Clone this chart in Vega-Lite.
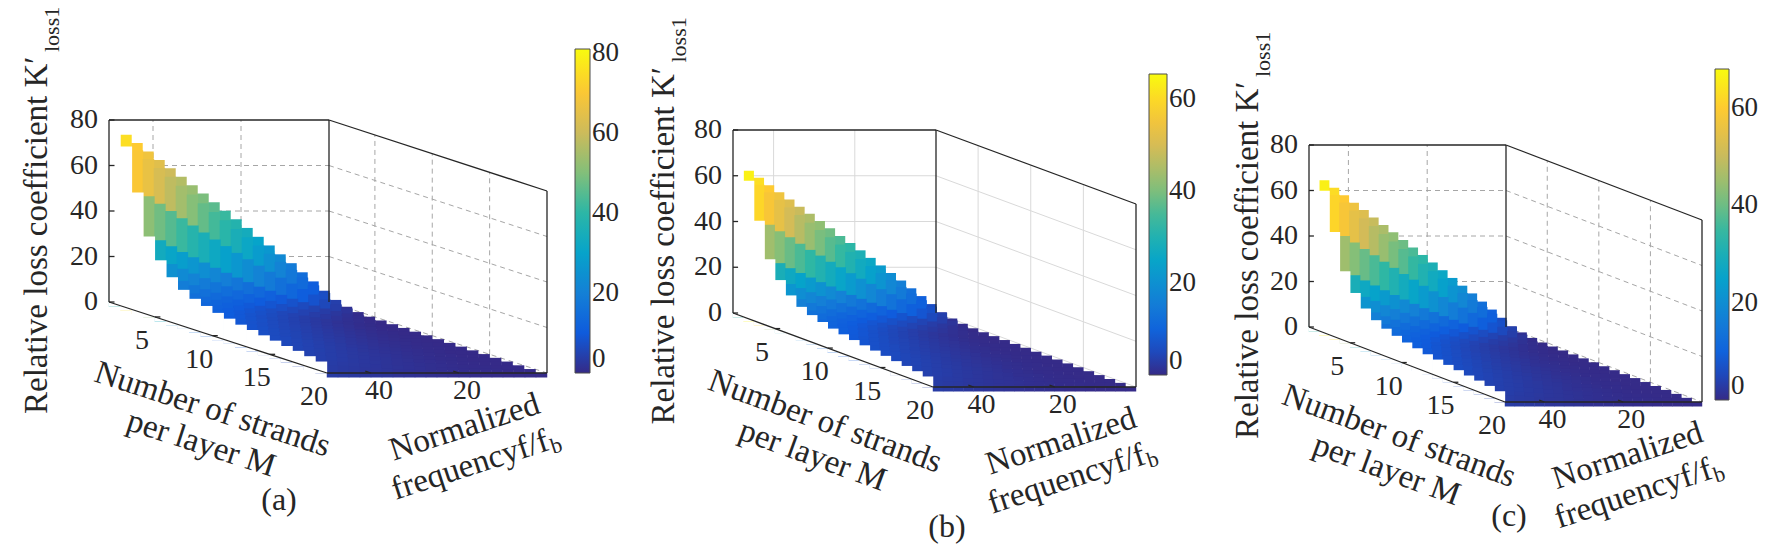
{
"$schema":"https://vega.github.io/schema/vega-lite/v6.json",
"width":1778,"height":545,"padding":0,"autosize":{"type":"none"},"background":"white",
"config":{"view":{"stroke":null},"text":{"font":"Liberation Serif","color":"#262626"},
"legend":{"orient":"none","direction":"vertical","title":null,"labelFont":"Liberation Serif","labelFontSize":27,"labelColor":"#262626","labelBaseline":"middle","labelOffset":8,"gradientStrokeColor":"#4d4d4d","gradientStrokeWidth":1}},
"datasets":{
"surf":[
{"M":1,"f":48.75,"a":38,"b":32.3,"c":33.4},{"M":1,"f":46.25,"a":37.5,"b":31.9,"c":33},{"M":1,"f":43.75,"a":36.5,"b":31,"c":32.1},{"M":1,"f":41.25,"a":35.5,"b":30.2,"c":31.2},{"M":1,"f":38.75,"a":34.5,"b":29.3,"c":30.4},{"M":1,"f":36.25,"a":33.5,"b":28.5,"c":29.5},{"M":1,"f":33.75,"a":32.5,"b":27.6,"c":28.6},{"M":1,"f":31.25,"a":31.5,"b":26.8,"c":27.7},{"M":1,"f":28.75,"a":30.5,"b":25.9,"c":26.8},{"M":1,"f":26.25,"a":29.5,"b":25.1,"c":26},{"M":1,"f":23.75,"a":28.5,"b":24.2,"c":25.1},{"M":1,"f":21.25,"a":27,"b":23,"c":23.8},{"M":1,"f":18.75,"a":26,"b":22.1,"c":22.9},{"M":1,"f":16.25,"a":24.5,"b":20.8,"c":21.6},{"M":1,"f":13.75,"a":22.5,"b":19.1,"c":19.8},{"M":1,"f":11.25,"a":20,"b":17,"c":17.6},{"M":1,"f":8.75,"a":16,"b":13.6,"c":14.1},{"M":1,"f":6.25,"a":11,"b":9.4,"c":9.7},{"M":1,"f":3.75,"a":6,"b":5.1,"c":5.3},{"M":1,"f":1.25,"a":2,"b":1.7,"c":1.8},
{"M":2,"f":48.75,"a":75.2,"b":63.9,"c":66.2},{"M":2,"f":46.25,"a":71.5,"b":60.8,"c":62.9},{"M":2,"f":43.75,"a":67.8,"b":57.6,"c":59.7},{"M":2,"f":41.25,"a":64.1,"b":54.5,"c":56.4},{"M":2,"f":38.75,"a":60.4,"b":51.3,"c":53.2},{"M":2,"f":36.25,"a":56.7,"b":48.2,"c":49.9},{"M":2,"f":33.75,"a":53,"b":45.1,"c":46.6},{"M":2,"f":31.25,"a":49.3,"b":41.9,"c":43.4},{"M":2,"f":28.75,"a":45.5,"b":38.7,"c":40},{"M":2,"f":26.25,"a":41.7,"b":35.4,"c":36.7},{"M":2,"f":23.75,"a":38,"b":32.3,"c":33.4},{"M":2,"f":21.25,"a":34.2,"b":29.1,"c":30.1},{"M":2,"f":18.75,"a":30.3,"b":25.8,"c":26.7},{"M":2,"f":16.25,"a":26.5,"b":22.5,"c":23.3},{"M":2,"f":13.75,"a":22.6,"b":19.2,"c":19.9},{"M":2,"f":11.25,"a":18.7,"b":15.9,"c":16.5},{"M":2,"f":8.75,"a":14.7,"b":12.5,"c":12.9},{"M":2,"f":6.25,"a":10.7,"b":9.1,"c":9.4},{"M":2,"f":3.75,"a":6.6,"b":5.6,"c":5.8},{"M":2,"f":1.25,"a":2.3,"b":2,"c":2},
{"M":3,"f":48.75,"a":70,"b":59.5,"c":61.6},{"M":3,"f":46.25,"a":66.1,"b":56.2,"c":58.2},{"M":3,"f":43.75,"a":62.2,"b":52.9,"c":54.7},{"M":3,"f":41.25,"a":58.3,"b":49.6,"c":51.3},{"M":3,"f":38.75,"a":54.4,"b":46.2,"c":47.9},{"M":3,"f":36.25,"a":50.5,"b":42.9,"c":44.4},{"M":3,"f":33.75,"a":46.7,"b":39.7,"c":41.1},{"M":3,"f":31.25,"a":42.9,"b":36.5,"c":37.8},{"M":3,"f":28.75,"a":39.2,"b":33.3,"c":34.5},{"M":3,"f":26.25,"a":35.4,"b":30.1,"c":31.2},{"M":3,"f":23.75,"a":31.8,"b":27,"c":28},{"M":3,"f":21.25,"a":28.1,"b":23.9,"c":24.7},{"M":3,"f":18.75,"a":24.5,"b":20.8,"c":21.6},{"M":3,"f":16.25,"a":20.9,"b":17.8,"c":18.4},{"M":3,"f":13.75,"a":17.4,"b":14.8,"c":15.3},{"M":3,"f":11.25,"a":14,"b":11.9,"c":12.3},{"M":3,"f":8.75,"a":10.6,"b":9,"c":9.3},{"M":3,"f":6.25,"a":7.3,"b":6.2,"c":6.4},{"M":3,"f":3.75,"a":4.2,"b":3.6,"c":3.7},{"M":3,"f":1.25,"a":1.2,"b":1,"c":1.1},
{"M":4,"f":48.75,"a":51.4,"b":43.7,"c":45.2},{"M":4,"f":46.25,"a":48.1,"b":40.9,"c":42.3},{"M":4,"f":43.75,"a":44.9,"b":38.2,"c":39.5},{"M":4,"f":41.25,"a":41.7,"b":35.4,"c":36.7},{"M":4,"f":38.75,"a":38.5,"b":32.7,"c":33.9},{"M":4,"f":36.25,"a":35.5,"b":30.2,"c":31.2},{"M":4,"f":33.75,"a":32.4,"b":27.5,"c":28.5},{"M":4,"f":31.25,"a":29.5,"b":25.1,"c":26},{"M":4,"f":28.75,"a":26.5,"b":22.5,"c":23.3},{"M":4,"f":26.25,"a":23.7,"b":20.1,"c":20.9},{"M":4,"f":23.75,"a":20.9,"b":17.8,"c":18.4},{"M":4,"f":21.25,"a":18.2,"b":15.5,"c":16},{"M":4,"f":18.75,"a":15.6,"b":13.3,"c":13.7},{"M":4,"f":16.25,"a":13,"b":11.1,"c":11.4},{"M":4,"f":13.75,"a":10.6,"b":9,"c":9.3},{"M":4,"f":11.25,"a":8.2,"b":7,"c":7.2},{"M":4,"f":8.75,"a":6,"b":5.1,"c":5.3},{"M":4,"f":6.25,"a":3.9,"b":3.3,"c":3.4},{"M":4,"f":3.75,"a":2.1,"b":1.8,"c":1.8},{"M":4,"f":1.25,"a":0.5,"b":0.4,"c":0.4},
{"M":5,"f":48.75,"a":33.7,"b":28.6,"c":29.7},{"M":5,"f":46.25,"a":31.1,"b":26.4,"c":27.4},{"M":5,"f":43.75,"a":28.6,"b":24.3,"c":25.2},{"M":5,"f":41.25,"a":26.2,"b":22.3,"c":23.1},{"M":5,"f":38.75,"a":23.9,"b":20.3,"c":21},{"M":5,"f":36.25,"a":21.6,"b":18.4,"c":19},{"M":5,"f":33.75,"a":19.4,"b":16.5,"c":17.1},{"M":5,"f":31.25,"a":17.3,"b":14.7,"c":15.2},{"M":5,"f":28.75,"a":15.3,"b":13,"c":13.5},{"M":5,"f":26.25,"a":13.3,"b":11.3,"c":11.7},{"M":5,"f":23.75,"a":11.5,"b":9.8,"c":10.1},{"M":5,"f":21.25,"a":9.7,"b":8.2,"c":8.5},{"M":5,"f":18.75,"a":8,"b":6.8,"c":7},{"M":5,"f":16.25,"a":6.5,"b":5.5,"c":5.7},{"M":5,"f":13.75,"a":5,"b":4.3,"c":4.4},{"M":5,"f":11.25,"a":3.7,"b":3.1,"c":3.3},{"M":5,"f":8.75,"a":2.6,"b":2.2,"c":2.3},{"M":5,"f":6.25,"a":1.5,"b":1.3,"c":1.3},{"M":5,"f":3.75,"a":0.7,"b":0.6,"c":0.6},{"M":5,"f":1.25,"a":0.1,"b":0.1,"c":0.1},
{"M":6,"f":48.75,"a":24.9,"b":21.2,"c":21.9},{"M":6,"f":46.25,"a":22.8,"b":19.4,"c":20.1},{"M":6,"f":43.75,"a":20.7,"b":17.6,"c":18.2},{"M":6,"f":41.25,"a":18.7,"b":15.9,"c":16.5},{"M":6,"f":38.75,"a":16.9,"b":14.4,"c":14.9},{"M":6,"f":36.25,"a":15.1,"b":12.8,"c":13.3},{"M":6,"f":33.75,"a":13.3,"b":11.3,"c":11.7},{"M":6,"f":31.25,"a":11.7,"b":9.9,"c":10.3},{"M":6,"f":28.75,"a":10.1,"b":8.6,"c":8.9},{"M":6,"f":26.25,"a":8.7,"b":7.4,"c":7.7},{"M":6,"f":23.75,"a":7.3,"b":6.2,"c":6.4},{"M":6,"f":21.25,"a":6.1,"b":5.2,"c":5.4},{"M":6,"f":18.75,"a":4.9,"b":4.2,"c":4.3},{"M":6,"f":16.25,"a":3.8,"b":3.2,"c":3.3},{"M":6,"f":13.75,"a":2.9,"b":2.5,"c":2.6},{"M":6,"f":11.25,"a":2.1,"b":1.8,"c":1.8},{"M":6,"f":8.75,"a":1.3,"b":1.1,"c":1.1},{"M":6,"f":6.25,"a":0.8,"b":0.7,"c":0.7},{"M":6,"f":3.75,"a":0.3,"b":0.3,"c":0.3},{"M":6,"f":1.25,"a":0.1,"b":0.1,"c":0.1},
{"M":7,"f":48.75,"a":19.1,"b":16.2,"c":16.8},{"M":7,"f":46.25,"a":17.2,"b":14.6,"c":15.1},{"M":7,"f":43.75,"a":15.5,"b":13.2,"c":13.6},{"M":7,"f":41.25,"a":13.9,"b":11.8,"c":12.2},{"M":7,"f":38.75,"a":12.3,"b":10.5,"c":10.8},{"M":7,"f":36.25,"a":10.9,"b":9.3,"c":9.6},{"M":7,"f":33.75,"a":9.5,"b":8.1,"c":8.4},{"M":7,"f":31.25,"a":8.2,"b":7,"c":7.2},{"M":7,"f":28.75,"a":7,"b":6,"c":6.2},{"M":7,"f":26.25,"a":5.9,"b":5,"c":5.2},{"M":7,"f":23.75,"a":4.9,"b":4.2,"c":4.3},{"M":7,"f":21.25,"a":3.9,"b":3.3,"c":3.4},{"M":7,"f":18.75,"a":3.1,"b":2.6,"c":2.7},{"M":7,"f":16.25,"a":2.4,"b":2,"c":2.1},{"M":7,"f":13.75,"a":1.7,"b":1.4,"c":1.5},{"M":7,"f":11.25,"a":1.2,"b":1,"c":1.1},{"M":7,"f":8.75,"a":0.7,"b":0.6,"c":0.6},{"M":7,"f":6.25,"a":0.4,"b":0.3,"c":0.4},{"M":7,"f":3.75,"a":0.1,"b":0.1,"c":0.1},{"M":7,"f":1.25,"a":0.1,"b":0.1,"c":0.1},
{"M":8,"f":48.75,"a":15.2,"b":12.9,"c":13.4},{"M":8,"f":46.25,"a":13.8,"b":11.7,"c":12.1},{"M":8,"f":43.75,"a":12.4,"b":10.5,"c":10.9},{"M":8,"f":41.25,"a":11.1,"b":9.4,"c":9.8},{"M":8,"f":38.75,"a":9.9,"b":8.4,"c":8.7},{"M":8,"f":36.25,"a":8.7,"b":7.4,"c":7.7},{"M":8,"f":33.75,"a":7.6,"b":6.5,"c":6.7},{"M":8,"f":31.25,"a":6.6,"b":5.6,"c":5.8},{"M":8,"f":28.75,"a":5.6,"b":4.8,"c":4.9},{"M":8,"f":26.25,"a":4.7,"b":4,"c":4.1},{"M":8,"f":23.75,"a":3.9,"b":3.3,"c":3.4},{"M":8,"f":21.25,"a":3.1,"b":2.6,"c":2.7},{"M":8,"f":18.75,"a":2.5,"b":2.1,"c":2.2},{"M":8,"f":16.25,"a":1.9,"b":1.6,"c":1.7},{"M":8,"f":13.75,"a":1.4,"b":1.2,"c":1.2},{"M":8,"f":11.25,"a":0.9,"b":0.8,"c":0.8},{"M":8,"f":8.75,"a":0.6,"b":0.5,"c":0.5},{"M":8,"f":6.25,"a":0.3,"b":0.3,"c":0.3},{"M":8,"f":3.75,"a":0.1,"b":0.1,"c":0.1},{"M":8,"f":1.25,"a":0.1,"b":0.1,"c":0.1},
{"M":9,"f":48.75,"a":12.9,"b":11,"c":11.4},{"M":9,"f":46.25,"a":11.6,"b":9.9,"c":10.2},{"M":9,"f":43.75,"a":10.5,"b":8.9,"c":9.2},{"M":9,"f":41.25,"a":9.4,"b":8,"c":8.3},{"M":9,"f":38.75,"a":8.3,"b":7.1,"c":7.3},{"M":9,"f":36.25,"a":7.3,"b":6.2,"c":6.4},{"M":9,"f":33.75,"a":6.4,"b":5.4,"c":5.6},{"M":9,"f":31.25,"a":5.5,"b":4.7,"c":4.8},{"M":9,"f":28.75,"a":4.7,"b":4,"c":4.1},{"M":9,"f":26.25,"a":4,"b":3.4,"c":3.5},{"M":9,"f":23.75,"a":3.3,"b":2.8,"c":2.9},{"M":9,"f":21.25,"a":2.7,"b":2.3,"c":2.4},{"M":9,"f":18.75,"a":2.1,"b":1.8,"c":1.8},{"M":9,"f":16.25,"a":1.6,"b":1.4,"c":1.4},{"M":9,"f":13.75,"a":1.2,"b":1,"c":1.1},{"M":9,"f":11.25,"a":0.8,"b":0.7,"c":0.7},{"M":9,"f":8.75,"a":0.5,"b":0.4,"c":0.4},{"M":9,"f":6.25,"a":0.3,"b":0.3,"c":0.3},{"M":9,"f":3.75,"a":0.1,"b":0.1,"c":0.1},{"M":9,"f":1.25,"a":0.1,"b":0.1,"c":0.1},
{"M":10,"f":48.75,"a":11.4,"b":9.7,"c":10},{"M":10,"f":46.25,"a":10.3,"b":8.8,"c":9.1},{"M":10,"f":43.75,"a":9.3,"b":7.9,"c":8.2},{"M":10,"f":41.25,"a":8.3,"b":7.1,"c":7.3},{"M":10,"f":38.75,"a":7.4,"b":6.3,"c":6.5},{"M":10,"f":36.25,"a":6.5,"b":5.5,"c":5.7},{"M":10,"f":33.75,"a":5.7,"b":4.8,"c":5},{"M":10,"f":31.25,"a":4.9,"b":4.2,"c":4.3},{"M":10,"f":28.75,"a":4.2,"b":3.6,"c":3.7},{"M":10,"f":26.25,"a":3.5,"b":3,"c":3.1},{"M":10,"f":23.75,"a":2.9,"b":2.5,"c":2.6},{"M":10,"f":21.25,"a":2.4,"b":2,"c":2.1},{"M":10,"f":18.75,"a":1.9,"b":1.6,"c":1.7},{"M":10,"f":16.25,"a":1.4,"b":1.2,"c":1.2},{"M":10,"f":13.75,"a":1,"b":0.9,"c":0.9},{"M":10,"f":11.25,"a":0.7,"b":0.6,"c":0.6},{"M":10,"f":8.75,"a":0.4,"b":0.3,"c":0.4},{"M":10,"f":6.25,"a":0.2,"b":0.2,"c":0.2},{"M":10,"f":3.75,"a":0.1,"b":0.1,"c":0.1},{"M":10,"f":1.25,"a":0.1,"b":0.1,"c":0.1},
{"M":11,"f":48.75,"a":10,"b":8.5,"c":8.8},{"M":11,"f":46.25,"a":9.1,"b":7.7,"c":8},{"M":11,"f":43.75,"a":8.1,"b":6.9,"c":7.1},{"M":11,"f":41.25,"a":7.3,"b":6.2,"c":6.4},{"M":11,"f":38.75,"a":6.5,"b":5.5,"c":5.7},{"M":11,"f":36.25,"a":5.7,"b":4.8,"c":5},{"M":11,"f":33.75,"a":5,"b":4.3,"c":4.4},{"M":11,"f":31.25,"a":4.3,"b":3.7,"c":3.8},{"M":11,"f":28.75,"a":3.7,"b":3.1,"c":3.3},{"M":11,"f":26.25,"a":3.1,"b":2.6,"c":2.7},{"M":11,"f":23.75,"a":2.6,"b":2.2,"c":2.3},{"M":11,"f":21.25,"a":2.1,"b":1.8,"c":1.8},{"M":11,"f":18.75,"a":1.6,"b":1.4,"c":1.4},{"M":11,"f":16.25,"a":1.2,"b":1,"c":1.1},{"M":11,"f":13.75,"a":0.9,"b":0.8,"c":0.8},{"M":11,"f":11.25,"a":0.6,"b":0.5,"c":0.5},{"M":11,"f":8.75,"a":0.4,"b":0.3,"c":0.4},{"M":11,"f":6.25,"a":0.2,"b":0.2,"c":0.2},{"M":11,"f":3.75,"a":0.1,"b":0.1,"c":0.1},{"M":11,"f":1.25,"a":0.1,"b":0.1,"c":0.1},
{"M":12,"f":48.75,"a":9.1,"b":7.7,"c":8},{"M":12,"f":46.25,"a":8.2,"b":7,"c":7.2},{"M":12,"f":43.75,"a":7.4,"b":6.3,"c":6.5},{"M":12,"f":41.25,"a":6.6,"b":5.6,"c":5.8},{"M":12,"f":38.75,"a":5.9,"b":5,"c":5.2},{"M":12,"f":36.25,"a":5.2,"b":4.4,"c":4.6},{"M":12,"f":33.75,"a":4.5,"b":3.8,"c":4},{"M":12,"f":31.25,"a":3.9,"b":3.3,"c":3.4},{"M":12,"f":28.75,"a":3.3,"b":2.8,"c":2.9},{"M":12,"f":26.25,"a":2.8,"b":2.4,"c":2.5},{"M":12,"f":23.75,"a":2.3,"b":2,"c":2},{"M":12,"f":21.25,"a":1.9,"b":1.6,"c":1.7},{"M":12,"f":18.75,"a":1.5,"b":1.3,"c":1.3},{"M":12,"f":16.25,"a":1.1,"b":0.9,"c":1},{"M":12,"f":13.75,"a":0.8,"b":0.7,"c":0.7},{"M":12,"f":11.25,"a":0.6,"b":0.5,"c":0.5},{"M":12,"f":8.75,"a":0.3,"b":0.3,"c":0.3},{"M":12,"f":6.25,"a":0.2,"b":0.2,"c":0.2},{"M":12,"f":3.75,"a":0.1,"b":0.1,"c":0.1},{"M":12,"f":1.25,"a":0.1,"b":0.1,"c":0.1},
{"M":13,"f":48.75,"a":8.1,"b":6.9,"c":7.1},{"M":13,"f":46.25,"a":7.3,"b":6.2,"c":6.4},{"M":13,"f":43.75,"a":6.6,"b":5.6,"c":5.8},{"M":13,"f":41.25,"a":5.9,"b":5,"c":5.2},{"M":13,"f":38.75,"a":5.2,"b":4.4,"c":4.6},{"M":13,"f":36.25,"a":4.6,"b":3.9,"c":4},{"M":13,"f":33.75,"a":4,"b":3.4,"c":3.5},{"M":13,"f":31.25,"a":3.5,"b":3,"c":3.1},{"M":13,"f":28.75,"a":3,"b":2.6,"c":2.6},{"M":13,"f":26.25,"a":2.5,"b":2.1,"c":2.2},{"M":13,"f":23.75,"a":2.1,"b":1.8,"c":1.8},{"M":13,"f":21.25,"a":1.7,"b":1.4,"c":1.5},{"M":13,"f":18.75,"a":1.3,"b":1.1,"c":1.1},{"M":13,"f":16.25,"a":1,"b":0.9,"c":0.9},{"M":13,"f":13.75,"a":0.7,"b":0.6,"c":0.6},{"M":13,"f":11.25,"a":0.5,"b":0.4,"c":0.4},{"M":13,"f":8.75,"a":0.3,"b":0.3,"c":0.3},{"M":13,"f":6.25,"a":0.2,"b":0.2,"c":0.2},{"M":13,"f":3.75,"a":0.1,"b":0.1,"c":0.1},{"M":13,"f":1.25,"a":0.1,"b":0.1,"c":0.1},
{"M":14,"f":48.75,"a":7.4,"b":6.3,"c":6.5},{"M":14,"f":46.25,"a":6.7,"b":5.7,"c":5.9},{"M":14,"f":43.75,"a":6.1,"b":5.2,"c":5.4},{"M":14,"f":41.25,"a":5.4,"b":4.6,"c":4.8},{"M":14,"f":38.75,"a":4.8,"b":4.1,"c":4.2},{"M":14,"f":36.25,"a":4.2,"b":3.6,"c":3.7},{"M":14,"f":33.75,"a":3.7,"b":3.1,"c":3.3},{"M":14,"f":31.25,"a":3.2,"b":2.7,"c":2.8},{"M":14,"f":28.75,"a":2.7,"b":2.3,"c":2.4},{"M":14,"f":26.25,"a":2.3,"b":2,"c":2},{"M":14,"f":23.75,"a":1.9,"b":1.6,"c":1.7},{"M":14,"f":21.25,"a":1.5,"b":1.3,"c":1.3},{"M":14,"f":18.75,"a":1.2,"b":1,"c":1.1},{"M":14,"f":16.25,"a":0.9,"b":0.8,"c":0.8},{"M":14,"f":13.75,"a":0.7,"b":0.6,"c":0.6},{"M":14,"f":11.25,"a":0.5,"b":0.4,"c":0.4},{"M":14,"f":8.75,"a":0.3,"b":0.3,"c":0.3},{"M":14,"f":6.25,"a":0.1,"b":0.1,"c":0.1},{"M":14,"f":3.75,"a":0.1,"b":0.1,"c":0.1},{"M":14,"f":1.25,"a":0.1,"b":0.1,"c":0.1},
{"M":15,"f":48.75,"a":6.7,"b":5.7,"c":5.9},{"M":15,"f":46.25,"a":6,"b":5.1,"c":5.3},{"M":15,"f":43.75,"a":5.4,"b":4.6,"c":4.8},{"M":15,"f":41.25,"a":4.9,"b":4.2,"c":4.3},{"M":15,"f":38.75,"a":4.3,"b":3.7,"c":3.8},{"M":15,"f":36.25,"a":3.8,"b":3.2,"c":3.3},{"M":15,"f":33.75,"a":3.3,"b":2.8,"c":2.9},{"M":15,"f":31.25,"a":2.9,"b":2.5,"c":2.6},{"M":15,"f":28.75,"a":2.4,"b":2,"c":2.1},{"M":15,"f":26.25,"a":2.1,"b":1.8,"c":1.8},{"M":15,"f":23.75,"a":1.7,"b":1.4,"c":1.5},{"M":15,"f":21.25,"a":1.4,"b":1.2,"c":1.2},{"M":15,"f":18.75,"a":1.1,"b":0.9,"c":1},{"M":15,"f":16.25,"a":0.8,"b":0.7,"c":0.7},{"M":15,"f":13.75,"a":0.6,"b":0.5,"c":0.5},{"M":15,"f":11.25,"a":0.4,"b":0.3,"c":0.4},{"M":15,"f":8.75,"a":0.3,"b":0.3,"c":0.3},{"M":15,"f":6.25,"a":0.1,"b":0.1,"c":0.1},{"M":15,"f":3.75,"a":0.1,"b":0.1,"c":0.1},{"M":15,"f":1.25,"a":0.1,"b":0.1,"c":0.1},
{"M":16,"f":48.75,"a":6,"b":5.1,"c":5.3},{"M":16,"f":46.25,"a":5.4,"b":4.6,"c":4.8},{"M":16,"f":43.75,"a":4.9,"b":4.2,"c":4.3},{"M":16,"f":41.25,"a":4.4,"b":3.7,"c":3.9},{"M":16,"f":38.75,"a":3.9,"b":3.3,"c":3.4},{"M":16,"f":36.25,"a":3.4,"b":2.9,"c":3},{"M":16,"f":33.75,"a":3,"b":2.6,"c":2.6},{"M":16,"f":31.25,"a":2.6,"b":2.2,"c":2.3},{"M":16,"f":28.75,"a":2.2,"b":1.9,"c":1.9},{"M":16,"f":26.25,"a":1.9,"b":1.6,"c":1.7},{"M":16,"f":23.75,"a":1.5,"b":1.3,"c":1.3},{"M":16,"f":21.25,"a":1.2,"b":1,"c":1.1},{"M":16,"f":18.75,"a":1,"b":0.9,"c":0.9},{"M":16,"f":16.25,"a":0.7,"b":0.6,"c":0.6},{"M":16,"f":13.75,"a":0.5,"b":0.4,"c":0.4},{"M":16,"f":11.25,"a":0.4,"b":0.3,"c":0.4},{"M":16,"f":8.75,"a":0.2,"b":0.2,"c":0.2},{"M":16,"f":6.25,"a":0.1,"b":0.1,"c":0.1},{"M":16,"f":3.75,"a":0.1,"b":0.1,"c":0.1},{"M":16,"f":1.25,"a":0.1,"b":0.1,"c":0.1},
{"M":17,"f":48.75,"a":5.3,"b":4.5,"c":4.7},{"M":17,"f":46.25,"a":4.8,"b":4.1,"c":4.2},{"M":17,"f":43.75,"a":4.3,"b":3.7,"c":3.8},{"M":17,"f":41.25,"a":3.9,"b":3.3,"c":3.4},{"M":17,"f":38.75,"a":3.5,"b":3,"c":3.1},{"M":17,"f":36.25,"a":3,"b":2.6,"c":2.6},{"M":17,"f":33.75,"a":2.7,"b":2.3,"c":2.4},{"M":17,"f":31.25,"a":2.3,"b":2,"c":2},{"M":17,"f":28.75,"a":2,"b":1.7,"c":1.8},{"M":17,"f":26.25,"a":1.6,"b":1.4,"c":1.4},{"M":17,"f":23.75,"a":1.4,"b":1.2,"c":1.2},{"M":17,"f":21.25,"a":1.1,"b":0.9,"c":1},{"M":17,"f":18.75,"a":0.9,"b":0.8,"c":0.8},{"M":17,"f":16.25,"a":0.7,"b":0.6,"c":0.6},{"M":17,"f":13.75,"a":0.5,"b":0.4,"c":0.4},{"M":17,"f":11.25,"a":0.3,"b":0.3,"c":0.3},{"M":17,"f":8.75,"a":0.2,"b":0.2,"c":0.2},{"M":17,"f":6.25,"a":0.1,"b":0.1,"c":0.1},{"M":17,"f":3.75,"a":0.1,"b":0.1,"c":0.1},{"M":17,"f":1.25,"a":0.1,"b":0.1,"c":0.1},
{"M":18,"f":48.75,"a":4.8,"b":4.1,"c":4.2},{"M":18,"f":46.25,"a":4.3,"b":3.7,"c":3.8},{"M":18,"f":43.75,"a":3.9,"b":3.3,"c":3.4},{"M":18,"f":41.25,"a":3.5,"b":3,"c":3.1},{"M":18,"f":38.75,"a":3.1,"b":2.6,"c":2.7},{"M":18,"f":36.25,"a":2.7,"b":2.3,"c":2.4},{"M":18,"f":33.75,"a":2.4,"b":2,"c":2.1},{"M":18,"f":31.25,"a":2,"b":1.7,"c":1.8},{"M":18,"f":28.75,"a":1.7,"b":1.4,"c":1.5},{"M":18,"f":26.25,"a":1.5,"b":1.3,"c":1.3},{"M":18,"f":23.75,"a":1.2,"b":1,"c":1.1},{"M":18,"f":21.25,"a":1,"b":0.9,"c":0.9},{"M":18,"f":18.75,"a":0.8,"b":0.7,"c":0.7},{"M":18,"f":16.25,"a":0.6,"b":0.5,"c":0.5},{"M":18,"f":13.75,"a":0.4,"b":0.3,"c":0.4},{"M":18,"f":11.25,"a":0.3,"b":0.3,"c":0.3},{"M":18,"f":8.75,"a":0.2,"b":0.2,"c":0.2},{"M":18,"f":6.25,"a":0.1,"b":0.1,"c":0.1},{"M":18,"f":3.75,"a":0.1,"b":0.1,"c":0.1},{"M":18,"f":1.25,"a":0.1,"b":0.1,"c":0.1},
{"M":19,"f":48.75,"a":4.1,"b":3.5,"c":3.6},{"M":19,"f":46.25,"a":3.7,"b":3.1,"c":3.3},{"M":19,"f":43.75,"a":3.3,"b":2.8,"c":2.9},{"M":19,"f":41.25,"a":3,"b":2.6,"c":2.6},{"M":19,"f":38.75,"a":2.6,"b":2.2,"c":2.3},{"M":19,"f":36.25,"a":2.3,"b":2,"c":2},{"M":19,"f":33.75,"a":2,"b":1.7,"c":1.8},{"M":19,"f":31.25,"a":1.8,"b":1.5,"c":1.6},{"M":19,"f":28.75,"a":1.5,"b":1.3,"c":1.3},{"M":19,"f":26.25,"a":1.3,"b":1.1,"c":1.1},{"M":19,"f":23.75,"a":1,"b":0.9,"c":0.9},{"M":19,"f":21.25,"a":0.8,"b":0.7,"c":0.7},{"M":19,"f":18.75,"a":0.7,"b":0.6,"c":0.6},{"M":19,"f":16.25,"a":0.5,"b":0.4,"c":0.4},{"M":19,"f":13.75,"a":0.4,"b":0.3,"c":0.4},{"M":19,"f":11.25,"a":0.3,"b":0.3,"c":0.3},{"M":19,"f":8.75,"a":0.2,"b":0.2,"c":0.2},{"M":19,"f":6.25,"a":0.1,"b":0.1,"c":0.1},{"M":19,"f":3.75,"a":0.1,"b":0.1,"c":0.1},{"M":19,"f":1.25,"a":0.1,"b":0.1,"c":0.1},
{"M":20,"f":48.75,"a":3.4,"b":2.9,"c":3},{"M":20,"f":46.25,"a":3.1,"b":2.6,"c":2.7},{"M":20,"f":43.75,"a":2.8,"b":2.4,"c":2.5},{"M":20,"f":41.25,"a":2.5,"b":2.1,"c":2.2},{"M":20,"f":38.75,"a":2.2,"b":1.9,"c":1.9},{"M":20,"f":36.25,"a":2,"b":1.7,"c":1.8},{"M":20,"f":33.75,"a":1.7,"b":1.4,"c":1.5},{"M":20,"f":31.25,"a":1.5,"b":1.3,"c":1.3},{"M":20,"f":28.75,"a":1.3,"b":1.1,"c":1.1},{"M":20,"f":26.25,"a":1.1,"b":0.9,"c":1},{"M":20,"f":23.75,"a":0.9,"b":0.8,"c":0.8},{"M":20,"f":21.25,"a":0.7,"b":0.6,"c":0.6},{"M":20,"f":18.75,"a":0.6,"b":0.5,"c":0.5},{"M":20,"f":16.25,"a":0.4,"b":0.3,"c":0.4},{"M":20,"f":13.75,"a":0.3,"b":0.3,"c":0.3},{"M":20,"f":11.25,"a":0.2,"b":0.2,"c":0.2},{"M":20,"f":8.75,"a":0.1,"b":0.1,"c":0.1},{"M":20,"f":6.25,"a":0.1,"b":0.1,"c":0.1},{"M":20,"f":3.75,"a":0.1,"b":0.1,"c":0.1},{"M":20,"f":1.25,"a":0.1,"b":0.1,"c":0.1}
],
"grid":[
{"id":"g1","o":0,"f":50,"M":1,"K":20},{"id":"g1","o":1,"f":0,"M":1,"K":20},
{"id":"g2","o":0,"f":50,"M":1,"K":40},{"id":"g2","o":1,"f":0,"M":1,"K":40},
{"id":"g3","o":0,"f":50,"M":1,"K":60},{"id":"g3","o":1,"f":0,"M":1,"K":60},
{"id":"g4","o":0,"f":20,"M":1,"K":0},{"id":"g4","o":1,"f":20,"M":1,"K":80},
{"id":"g5","o":0,"f":40,"M":1,"K":0},{"id":"g5","o":1,"f":40,"M":1,"K":80},
{"id":"g6","o":0,"f":0,"M":1,"K":20},{"id":"g6","o":1,"f":0,"M":20,"K":20},
{"id":"g7","o":0,"f":0,"M":1,"K":40},{"id":"g7","o":1,"f":0,"M":20,"K":40},
{"id":"g8","o":0,"f":0,"M":1,"K":60},{"id":"g8","o":1,"f":0,"M":20,"K":60},
{"id":"g9","o":0,"f":0,"M":5,"K":0},{"id":"g9","o":1,"f":0,"M":5,"K":80},
{"id":"g10","o":0,"f":0,"M":10,"K":0},{"id":"g10","o":1,"f":0,"M":10,"K":80},
{"id":"g11","o":0,"f":0,"M":15,"K":0},{"id":"g11","o":1,"f":0,"M":15,"K":80},
{"id":"g12","o":0,"f":50,"M":5,"K":0},{"id":"g12","o":1,"f":0,"M":5,"K":0},
{"id":"g13","o":0,"f":50,"M":10,"K":0},{"id":"g13","o":1,"f":0,"M":10,"K":0},
{"id":"g14","o":0,"f":50,"M":15,"K":0},{"id":"g14","o":1,"f":0,"M":15,"K":0},
{"id":"g15","o":0,"f":20,"M":1,"K":0},{"id":"g15","o":1,"f":20,"M":20,"K":0},
{"id":"g16","o":0,"f":40,"M":1,"K":0},{"id":"g16","o":1,"f":40,"M":20,"K":0},
{"id":"g17","o":0,"f":50,"M":1,"K":0},{"id":"g17","o":1,"f":0,"M":1,"K":0},
{"id":"g18","o":0,"f":0,"M":1,"K":0},{"id":"g18","o":1,"f":0,"M":20,"K":0}
],
"box":[
{"id":"b1","o":0,"f":50,"M":1,"K":0},{"id":"b1","o":1,"f":50,"M":1,"K":80},
{"id":"b2","o":0,"f":50,"M":1,"K":80},{"id":"b2","o":1,"f":0,"M":1,"K":80},
{"id":"b3","o":0,"f":0,"M":1,"K":0},{"id":"b3","o":1,"f":0,"M":1,"K":80},
{"id":"b4","o":0,"f":0,"M":1,"K":80},{"id":"b4","o":1,"f":0,"M":20,"K":80},
{"id":"b5","o":0,"f":0,"M":20,"K":0},{"id":"b5","o":1,"f":0,"M":20,"K":80},
{"id":"b6","o":0,"f":50,"M":1,"K":0},{"id":"b6","o":1,"f":50,"M":20,"K":0},
{"id":"b7","o":0,"f":50,"M":20,"K":0},{"id":"b7","o":1,"f":0,"M":20,"K":0},
{"id":"t1","o":0,"f":50,"M":1,"K":0},{"id":"t1","o":1,"f":48.75,"M":1,"K":0},
{"id":"t2","o":0,"f":50,"M":1,"K":20},{"id":"t2","o":1,"f":48.75,"M":1,"K":20},
{"id":"t3","o":0,"f":50,"M":1,"K":40},{"id":"t3","o":1,"f":48.75,"M":1,"K":40},
{"id":"t4","o":0,"f":50,"M":1,"K":60},{"id":"t4","o":1,"f":48.75,"M":1,"K":60},
{"id":"t5","o":0,"f":50,"M":1,"K":80},{"id":"t5","o":1,"f":48.75,"M":1,"K":80},
{"id":"t6","o":0,"f":50,"M":5,"K":0},{"id":"t6","o":1,"f":48.75,"M":5,"K":0},
{"id":"t7","o":0,"f":50,"M":10,"K":0},{"id":"t7","o":1,"f":48.75,"M":10,"K":0},
{"id":"t8","o":0,"f":50,"M":15,"K":0},{"id":"t8","o":1,"f":48.75,"M":15,"K":0},
{"id":"t9","o":0,"f":20,"M":20,"K":0},{"id":"t9","o":1,"f":20,"M":19.5,"K":0},
{"id":"t10","o":0,"f":40,"M":20,"K":0},{"id":"t10","o":1,"f":40,"M":19.5,"K":0}
],
"klab":[{"f":50,"M":1,"K":0},{"f":50,"M":1,"K":20},{"f":50,"M":1,"K":40},{"f":50,"M":1,"K":60},{"f":50,"M":1,"K":80}],
"mlab":[{"f":50,"M":5,"K":0},{"f":50,"M":10,"K":0},{"f":50,"M":15,"K":0},{"f":50,"M":20,"K":0}],
"flab":[{"f":20,"M":20,"K":0},{"f":40,"M":20,"K":0}],
"kt":[{"f":50,"M":1,"K":40,"t":"Relative loss coefficient K′","s":"loss1"}],
"mt":[{"f":50,"M":10.5,"K":0,"t":["Number of strands","per layer M"]}],
"ft":[{"f":50,"M":20,"K":0,"t1":"Normalized","t2":"frequencyf/f","s":"b"}]
},
"layer":[
{
"encoding":{
"x":{"field":"f","type":"ordinal","axis":null,"scale":{"type":"point","padding":0,"range":[547,327],"domain":[0,1.25,2.5,3.75,5,6.25,7.5,8.75,10,11.25,12.5,13.75,15,16.25,17.5,18.75,20,21.25,22.5,23.75,25,26.25,27.5,28.75,30,31.25,32.5,33.75,35,36.25,37.5,38.75,40,41.25,42.5,43.75,45,46.25,47.5,48.75,50]}},
"xOffset":{"field":"M","type":"quantitative","scale":{"domain":[1,20],"range":[-218,0],"zero":false,"nice":false}},
"y":{"field":"M","type":"ordinal","axis":null,"scale":{"type":"point","padding":0,"range":[302,373],"domain":[1,1.5,2,2.5,3,3.5,4,4.5,5,5.5,6,6.5,7,7.5,8,8.5,9,9.5,10,10.5,11,11.5,12,12.5,13,13.5,14,14.5,15,15.5,16,16.5,17,17.5,18,18.5,19,19.5,20]}},
"yOffset":{"field":"K","type":"quantitative","scale":{"domain":[0,80],"range":[0,-182],"zero":false,"nice":false}}
},
"layer":[
{"data":{"name":"grid"},"mark":{"type":"line","color":"#a6a6a6","strokeWidth":1,"strokeDash":[5,4]},"encoding":{"detail":{"field":"id","type":"nominal"},"order":{"field":"o","type":"quantitative"}}},
{"data":{"name":"surf"},"mark":{"type":"rule","strokeWidth":11.5,"y2Offset":4.5},"encoding":{
"yOffset":{"field":"a","type":"quantitative","scale":{"domain":[0,80],"range":[0,-182],"zero":false,"nice":false}},
"y2":{"field":"M"},
"color":{"field":"a","type":"quantitative","scale":{"type":"linear","interpolate":"rgb","domain":[0,10.125,20.25,30.375,40.5,50.625,60.75,70.875,81],"range":["#352a87","#0f5cdd","#1481d6","#06a4ca","#2eb7a4","#87bf77","#d1bb59","#fec832","#f9fb0e"]},
"legend":{"legendX":575,"legendY":49,"gradientLength":324,"gradientThickness":15,"values":[0,20,40,60,80]}}}},
{"data":{"name":"surf"},"transform":[{"window":[{"op":"lead","field":"a","as":"n"}],"groupby":["f"],"sort":[{"field":"M","order":"ascending"}]},{"filter":"datum.f == 48.75 && datum.n != null"}],"mark":{"type":"rule","color":"white","strokeWidth":12.3,"y2Offset":4.5},"encoding":{
"yOffset":{"field":"n","type":"quantitative","scale":{"domain":[0,80],"range":[0,-182],"zero":false,"nice":false}},
"y2":{"field":"M"}}},
{"data":{"name":"box"},"mark":{"type":"line","color":"#262626","strokeWidth":1.3},"encoding":{"detail":{"field":"id","type":"nominal"},"order":{"field":"o","type":"quantitative"}}},
{"data":{"name":"klab"},"mark":{"type":"text","align":"right","baseline":"middle","dx":-11,"fontSize":28},"encoding":{"text":{"field":"K","type":"quantitative"}}},
{"data":{"name":"mlab"},"mark":{"type":"text","align":"center","baseline":"middle","dx":-13,"dy":24,"fontSize":28},"encoding":{"text":{"field":"M","type":"quantitative"}}},
{"data":{"name":"flab"},"mark":{"type":"text","align":"center","baseline":"middle","dx":8,"dy":18,"fontSize":28},"encoding":{"text":{"field":"f","type":"quantitative"}}},
{"data":{"name":"kt"},"mark":{"type":"text","angle":270,"align":"left","baseline":"alphabetic","dx":-203,"dy":-62,"fontSize":33},"encoding":{"text":{"field":"t","type":"nominal"}}},
{"data":{"name":"kt"},"mark":{"type":"text","angle":270,"align":"left","baseline":"alphabetic","dx":159,"dy":-50,"fontSize":22},"encoding":{"text":{"field":"s","type":"nominal"}}},
{"data":{"name":"mt"},"mark":{"type":"text","angle":18,"align":"center","baseline":"middle","dx":17,"dy":70,"fontSize":33,"lineHeight":36},"encoding":{"text":{"field":"t","type":"nominal"}}},
{"data":{"name":"ft"},"mark":{"type":"text","angle":342,"align":"center","baseline":"middle","dx":114,"dy":94,"fontSize":33},"encoding":{"text":{"field":"t1","type":"nominal"}}},
{"data":{"name":"ft"},"mark":{"type":"text","angle":342,"align":"left","baseline":"middle","dx":26,"dy":132,"fontSize":33},"encoding":{"text":{"field":"t2","type":"nominal"}}},
{"data":{"name":"ft"},"mark":{"type":"text","angle":342,"align":"left","baseline":"middle","dx":190,"dy":140,"fontSize":22},"encoding":{"text":{"field":"s","type":"nominal"}}},
{"data":{"values":[{"f":50,"M":20,"K":0,"t":"(a)"}]},"mark":{"type":"text","align":"center","baseline":"middle","dx":-48,"dy":127,"fontSize":32},"encoding":{"text":{"field":"t","type":"nominal"}}}
]
},
{
"encoding":{
"x":{"field":"f","type":"ordinal","axis":null,"scale":{"type":"point","padding":0,"range":[1136,933],"domain":[0,1.25,2.5,3.75,5,6.25,7.5,8.75,10,11.25,12.5,13.75,15,16.25,17.5,18.75,20,21.25,22.5,23.75,25,26.25,27.5,28.75,30,31.25,32.5,33.75,35,36.25,37.5,38.75,40,41.25,42.5,43.75,45,46.25,47.5,48.75,50]}},
"xOffset":{"field":"M","type":"quantitative","scale":{"domain":[1,20],"range":[-200,0],"zero":false,"nice":false}},
"y":{"field":"M","type":"ordinal","axis":null,"scale":{"type":"point","padding":0,"range":[313,387],"domain":[1,1.5,2,2.5,3,3.5,4,4.5,5,5.5,6,6.5,7,7.5,8,8.5,9,9.5,10,10.5,11,11.5,12,12.5,13,13.5,14,14.5,15,15.5,16,16.5,17,17.5,18,18.5,19,19.5,20]}},
"yOffset":{"field":"K","type":"quantitative","scale":{"domain":[0,80],"range":[0,-183],"zero":false,"nice":false}}
},
"layer":[
{"data":{"name":"grid"},"mark":{"type":"line","color":"#d9d9d9","strokeWidth":1},"encoding":{"detail":{"field":"id","type":"nominal"},"order":{"field":"o","type":"quantitative"}}},
{"data":{"name":"surf"},"mark":{"type":"rule","strokeWidth":10.6,"y2Offset":4.5},"encoding":{
"yOffset":{"field":"b","type":"quantitative","scale":{"domain":[0,80],"range":[0,-183],"zero":false,"nice":false}},
"y2":{"field":"M"},
"color":{"field":"b","type":"quantitative","scale":{"type":"linear","interpolate":"rgb","domain":[0,8.1875,16.375,24.5625,32.75,40.9375,49.125,57.3125,65.5],"range":["#352a87","#0f5cdd","#1481d6","#06a4ca","#2eb7a4","#87bf77","#d1bb59","#fec832","#f9fb0e"]},
"legend":{"legendX":1149,"legendY":74,"gradientLength":301,"gradientThickness":18,"values":[0,20,40,60]}}}},
{"data":{"name":"surf"},"transform":[{"window":[{"op":"lead","field":"b","as":"n"}],"groupby":["f"],"sort":[{"field":"M","order":"ascending"}]},{"filter":"datum.f == 48.75 && datum.n != null"}],"mark":{"type":"rule","color":"white","strokeWidth":11.4,"y2Offset":4.5},"encoding":{
"yOffset":{"field":"n","type":"quantitative","scale":{"domain":[0,80],"range":[0,-183],"zero":false,"nice":false}},
"y2":{"field":"M"}}},
{"data":{"name":"box"},"mark":{"type":"line","color":"#262626","strokeWidth":1.3},"encoding":{"detail":{"field":"id","type":"nominal"},"order":{"field":"o","type":"quantitative"}}},
{"data":{"name":"klab"},"mark":{"type":"text","align":"right","baseline":"middle","dx":-11,"fontSize":28},"encoding":{"text":{"field":"K","type":"quantitative"}}},
{"data":{"name":"mlab"},"mark":{"type":"text","align":"center","baseline":"middle","dx":-13,"dy":24,"fontSize":28},"encoding":{"text":{"field":"M","type":"quantitative"}}},
{"data":{"name":"flab"},"mark":{"type":"text","align":"center","baseline":"middle","dx":8,"dy":18,"fontSize":28},"encoding":{"text":{"field":"f","type":"quantitative"}}},
{"data":{"name":"kt"},"mark":{"type":"text","angle":270,"align":"left","baseline":"alphabetic","dx":-203,"dy":-59,"fontSize":33},"encoding":{"text":{"field":"t","type":"nominal"}}},
{"data":{"name":"kt"},"mark":{"type":"text","angle":270,"align":"left","baseline":"alphabetic","dx":159,"dy":-47,"fontSize":22},"encoding":{"text":{"field":"s","type":"nominal"}}},
{"data":{"name":"mt"},"mark":{"type":"text","angle":20,"align":"center","baseline":"middle","dx":17,"dy":70,"fontSize":33,"lineHeight":36},"encoding":{"text":{"field":"t","type":"nominal"}}},
{"data":{"name":"ft"},"mark":{"type":"text","angle":342,"align":"center","baseline":"middle","dx":105,"dy":91,"fontSize":33},"encoding":{"text":{"field":"t1","type":"nominal"}}},
{"data":{"name":"ft"},"mark":{"type":"text","angle":342,"align":"left","baseline":"middle","dx":17,"dy":129,"fontSize":33},"encoding":{"text":{"field":"t2","type":"nominal"}}},
{"data":{"name":"ft"},"mark":{"type":"text","angle":342,"align":"left","baseline":"middle","dx":181,"dy":137,"fontSize":22},"encoding":{"text":{"field":"s","type":"nominal"}}},
{"data":{"values":[{"f":50,"M":20,"K":0,"t":"(b)"}]},"mark":{"type":"text","align":"center","baseline":"middle","dx":14,"dy":140,"fontSize":32},"encoding":{"text":{"field":"t","type":"nominal"}}}
]
},
{
"encoding":{
"x":{"field":"f","type":"ordinal","axis":null,"scale":{"type":"point","padding":0,"range":[1702,1505],"domain":[0,1.25,2.5,3.75,5,6.25,7.5,8.75,10,11.25,12.5,13.75,15,16.25,17.5,18.75,20,21.25,22.5,23.75,25,26.25,27.5,28.75,30,31.25,32.5,33.75,35,36.25,37.5,38.75,40,41.25,42.5,43.75,45,46.25,47.5,48.75,50]}},
"xOffset":{"field":"M","type":"quantitative","scale":{"domain":[1,20],"range":[-196,0],"zero":false,"nice":false}},
"y":{"field":"M","type":"ordinal","axis":null,"scale":{"type":"point","padding":0,"range":[327,402],"domain":[1,1.5,2,2.5,3,3.5,4,4.5,5,5.5,6,6.5,7,7.5,8,8.5,9,9.5,10,10.5,11,11.5,12,12.5,13,13.5,14,14.5,15,15.5,16,16.5,17,17.5,18,18.5,19,19.5,20]}},
"yOffset":{"field":"K","type":"quantitative","scale":{"domain":[0,80],"range":[0,-182],"zero":false,"nice":false}}
},
"layer":[
{"data":{"name":"grid"},"mark":{"type":"line","color":"#a6a6a6","strokeWidth":1,"strokeDash":[5,4]},"encoding":{"detail":{"field":"id","type":"nominal"},"order":{"field":"o","type":"quantitative"}}},
{"data":{"name":"surf"},"mark":{"type":"rule","strokeWidth":10.3,"y2Offset":4.5},"encoding":{
"yOffset":{"field":"c","type":"quantitative","scale":{"domain":[0,80],"range":[0,-182],"zero":false,"nice":false}},
"y2":{"field":"M"},
"color":{"field":"c","type":"quantitative","scale":{"type":"linear","interpolate":"rgb","domain":[0,8.5,17,25.5,34,42.5,51,59.5,68],"range":["#352a87","#0f5cdd","#1481d6","#06a4ca","#2eb7a4","#87bf77","#d1bb59","#fec832","#f9fb0e"]},
"legend":{"legendX":1715,"legendY":69,"gradientLength":331,"gradientThickness":14,"values":[0,20,40,60]}}}},
{"data":{"name":"surf"},"transform":[{"window":[{"op":"lead","field":"c","as":"n"}],"groupby":["f"],"sort":[{"field":"M","order":"ascending"}]},{"filter":"datum.f == 48.75 && datum.n != null"}],"mark":{"type":"rule","color":"white","strokeWidth":11.1,"y2Offset":4.5},"encoding":{
"yOffset":{"field":"n","type":"quantitative","scale":{"domain":[0,80],"range":[0,-182],"zero":false,"nice":false}},
"y2":{"field":"M"}}},
{"data":{"name":"box"},"mark":{"type":"line","color":"#262626","strokeWidth":1.3},"encoding":{"detail":{"field":"id","type":"nominal"},"order":{"field":"o","type":"quantitative"}}},
{"data":{"name":"klab"},"mark":{"type":"text","align":"right","baseline":"middle","dx":-11,"fontSize":28},"encoding":{"text":{"field":"K","type":"quantitative"}}},
{"data":{"name":"mlab"},"mark":{"type":"text","align":"center","baseline":"middle","dx":-13,"dy":24,"fontSize":28},"encoding":{"text":{"field":"M","type":"quantitative"}}},
{"data":{"name":"flab"},"mark":{"type":"text","align":"center","baseline":"middle","dx":8,"dy":18,"fontSize":28},"encoding":{"text":{"field":"f","type":"quantitative"}}},
{"data":{"name":"kt"},"mark":{"type":"text","angle":270,"align":"left","baseline":"alphabetic","dx":-203,"dy":-51,"fontSize":33},"encoding":{"text":{"field":"t","type":"nominal"}}},
{"data":{"name":"kt"},"mark":{"type":"text","angle":270,"align":"left","baseline":"alphabetic","dx":159,"dy":-39,"fontSize":22},"encoding":{"text":{"field":"s","type":"nominal"}}},
{"data":{"name":"mt"},"mark":{"type":"text","angle":20,"align":"center","baseline":"middle","dx":17,"dy":70,"fontSize":33,"lineHeight":36},"encoding":{"text":{"field":"t","type":"nominal"}}},
{"data":{"name":"ft"},"mark":{"type":"text","angle":342,"align":"center","baseline":"middle","dx":100,"dy":89,"fontSize":33},"encoding":{"text":{"field":"t1","type":"nominal"}}},
{"data":{"name":"ft"},"mark":{"type":"text","angle":342,"align":"left","baseline":"middle","dx":12,"dy":127,"fontSize":33},"encoding":{"text":{"field":"t2","type":"nominal"}}},
{"data":{"name":"ft"},"mark":{"type":"text","angle":342,"align":"left","baseline":"middle","dx":176,"dy":135,"fontSize":22},"encoding":{"text":{"field":"s","type":"nominal"}}},
{"data":{"values":[{"f":50,"M":20,"K":0,"t":"(c)"}]},"mark":{"type":"text","align":"center","baseline":"middle","dx":4,"dy":114,"fontSize":32},"encoding":{"text":{"field":"t","type":"nominal"}}}
]
}
],
"resolve":{"scale":{"x":"independent","y":"independent","xOffset":"independent","yOffset":"independent","color":"independent"}}
}
